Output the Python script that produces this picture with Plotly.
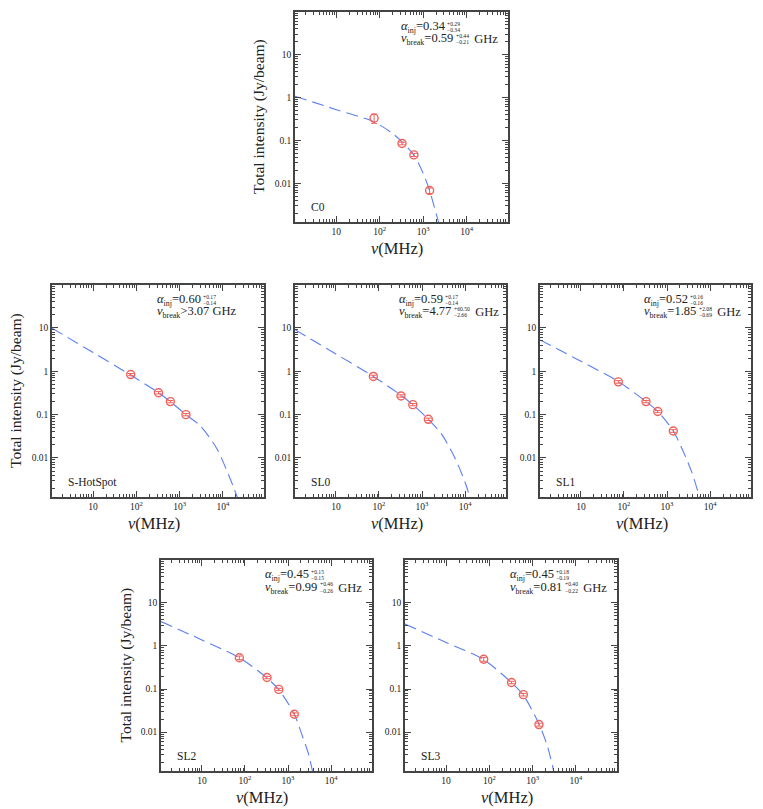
import plotly.graph_objects as go

# ---------------- data ----------------
regions = ["C0", "S-HotSpot", "SL0", "SL1", "SL2", "SL3"]
freq_mhz = [74, 325, 610, 1400]

flux = {
    "C0":        [0.33, 0.085, 0.046, 0.0068],
    "S-HotSpot": [0.84, 0.32, 0.20, 0.10],
    "SL0":       [0.76, 0.27, 0.17, 0.078],
    "SL1":       [0.57, 0.20, 0.118, 0.042],
    "SL2":       [0.53, 0.185, 0.098, 0.026],
    "SL3":       [0.49, 0.142, 0.074, 0.015],
}
flux_err = {
    "C0":        [0.08, 0.006, 0.004, 0.001],
    "S-HotSpot": [0.05, 0.02, 0.012, 0.006],
    "SL0":       [0.05, 0.017, 0.01, 0.005],
    "SL1":       [0.04, 0.012, 0.007, 0.003],
    "SL2":       [0.05, 0.012, 0.006, 0.002],
    "SL3":       [0.05, 0.009, 0.005, 0.0012],
}

# model curves
curve_nu = {
    "C0":        [1.12, 10, 74, 200, 325, 610, 1000, 1400, 2000, 2250],
    "S-HotSpot": [1.12, 10, 74, 325, 610, 1400, 2950, 7100, 14400, 21500],
    "SL0":       [1.12, 10, 74, 325, 610, 1400, 2820, 5800, 9800, 12900],
    "SL1":       [1.12, 10, 74, 325, 610, 1400, 2350, 3700, 5700],
    "SL2":       [1.12, 10, 74, 325, 610, 1400, 2040, 2940, 3700],
    "SL3":       [1.12, 10, 74, 325, 610, 1400, 2200, 3070],
}
curve_s = {
    "C0":        [1.07, 0.52, 0.27, 0.143, 0.092, 0.046, 0.017, 0.0068, 0.0019, 0.00125],
    "S-HotSpot": [9.9, 2.7, 0.82, 0.32, 0.20, 0.10, 0.056, 0.017, 0.0035, 0.00125],
    "SL0":       [9.1, 2.5, 0.76, 0.28, 0.17, 0.078, 0.036, 0.010, 0.0029, 0.00125],
    "SL1":       [5.3, 1.7, 0.58, 0.20, 0.118, 0.042, 0.0145, 0.0049, 0.00125],
    "SL2":       [3.65, 1.37, 0.53, 0.18, 0.097, 0.026, 0.0095, 0.0033, 0.00125],
    "SL3":       [3.2, 1.2, 0.48, 0.14, 0.072, 0.0155, 0.0047, 0.00125],
}

alpha_val = ["0.34", "0.60", "0.59", "0.52", "0.45", "0.45"]
alpha_up  = ["+0.29", "+0.17", "+0.17", "+0.16", "+0.15", "+0.18"]
alpha_lo  = ["−0.34", "−0.14", "−0.14", "−0.16", "−0.15", "−0.19"]
break_rel = ["=", ">", "=", "=", "=", "="]
break_val = ["0.59", "3.07", "4.77", "1.85", "0.99", "0.81"]
break_up  = ["+0.44", "", "+60.50", "+2.08", "+0.46", "+0.40"]
break_lo  = ["−0.21", "", "−2.66", "−0.69", "−0.26", "−0.22"]

x_tickvals = [10, 100, 1000, 10000]
x_ticktext = ["10", "10<sup>2</sup>", "10<sup>3</sup>", "10<sup>4</sup>"]
y_tickvals = [0.01, 0.1, 1, 10]
y_ticktext = ["0.01", "0.1", "1", "10"]

# ---------------- layout geometry (window pixels) ----------------
OFF = 8                 # default page body margin
FW, FH = 755, 801       # figure size so that page + margin fits the window
boxes = {
    "C0":        (295, 508, 12, 222),
    "S-HotSpot": (52, 264, 285, 497),
    "SL0":       (295, 506, 285, 497),
    "SL1":       (540, 751, 285, 497),
    "SL2":       (161, 372, 560, 771),
    "SL3":       (405, 617, 560, 771),
}
with_ylabel = {"C0", "S-HotSpot", "SL2"}
FONT = "Liberation Serif"
TXT = "#222222"
AXC = "#444444"
CURVE_C = "#5b7ff2"
PT_C = "#f0605a"

xmin_minor = [m * 10 ** k for k in range(0, 5) for m in range(2, 10)]
ymin_minor = [m * 10.0 ** k for k in range(-3, 2) for m in range(2, 10)]


def px(x):
    return (x - OFF) / FW


def py(y):
    return 1 - (y - OFF) / FH


CW = {'0': .5, '1': .5, '2': .5, '3': .5, '4': .5, '5': .5, '6': .5, '7': .5,
      '8': .5, '9': .5, '.': .25, '=': .564, '+': .564, '−': .564, '>': .564,
      ' ': .25, 'G': .722, 'H': .722, 'z': .444, 'i': .278, 'n': .5, 'j': .278,
      'b': .5, 'r': .333, 'e': .444, 'a': .444, 'k': .5, 'α': .55, 'ν': .5}


def tw(s, size):
    return sum(CW.get(c, .5) for c in s) * size


fig = go.Figure()
annotations = []
S = 12.5     # main text size
SS = 8       # subscript size
ES = 5.6     # stacked exponent size

for i, name in enumerate(regions):
    x0, x1, y0, y1 = boxes[name]
    sfx = "" if i == 0 else str(i + 1)
    xa, ya = "x" + sfx, "y" + sfx
    fig.add_trace(go.Scatter(
        x=curve_nu[name], y=curve_s[name], mode="lines",
        line=dict(color=CURVE_C, width=1.1, dash="12px,6px", shape="spline", smoothing=0.8),
        xaxis=xa, yaxis=ya, showlegend=False, hoverinfo="skip"))
    fig.add_trace(go.Scatter(
        x=freq_mhz, y=flux[name], mode="markers",
        marker=dict(symbol="circle-open", size=8, color=PT_C, line=dict(width=1.4, color=PT_C)),
        error_y=dict(type="data", array=flux_err[name], color=PT_C, thickness=1, width=3),
        xaxis=xa, yaxis=ya, showlegend=False))

    common = dict(showline=True, linecolor=AXC, linewidth=1.5, mirror="allticks",
                  ticks="inside", ticklen=6, tickcolor=AXC, tickwidth=1,
                  showgrid=False, zeroline=False, type="log",
                  tickfont=dict(family=FONT, size=9.5, color=TXT),
                  minor=dict(ticks="inside", ticklen=3, tickcolor=AXC, tickwidth=1, showgrid=False))
    xkey = "xaxis" + sfx
    ykey = "yaxis" + sfx
    xd = dict(common)
    xd.update(domain=[px(x0), px(x1)], range=[0.05, 4.95], anchor=ya,
              tickmode="array", tickvals=x_tickvals, ticktext=x_ticktext)
    xd["minor"] = dict(common["minor"], tickmode="array", tickvals=xmin_minor)
    yd = dict(common)
    yd.update(domain=[py(y1), py(y0)], range=[-2.9, 1.99], anchor=xa,
              tickmode="array", tickvals=y_tickvals, ticktext=y_ticktext)
    yd["minor"] = dict(common["minor"], tickmode="array", tickvals=ymin_minor)
    fig.update_layout({xkey: xd, ykey: yd})

    # axis titles
    if name in with_ylabel:
        annotations.append(dict(x=px(x0 - 36), y=py((y0 + y1) / 2), xref="paper", yref="paper",
                                text="Total intensity (Jy/beam)", textangle=-90, showarrow=False,
                                font=dict(family=FONT, size=15.5, color=TXT),
                                xanchor="center", yanchor="middle"))
    annotations.append(dict(x=px((x0 + x1) / 2 - 4), y=py(y1 + 26), xref="paper", yref="paper",
                            text="<i>ν</i>(MHz)", showarrow=False,
                            font=dict(family=FONT, size=16.5, color=TXT),
                            xanchor="center", yanchor="middle"))
    # region label
    annotations.append(dict(x=px(x0 + 14), y=py(y1 - 15), xref="paper", yref="paper",
                            text=name, showarrow=False, font=dict(family=FONT, size=11.5, color=TXT),
                            xanchor="left", yanchor="middle"))

    # fit parameter text
    X0 = x1 - 108
    ghz_inline = "" if break_up[i] else " GHz"
    lines = [
        ("α", "inj", "=" + alpha_val[i], alpha_up[i], alpha_lo[i], "", y0 + 15),
        ("ν", "break", break_rel[i] + break_val[i] + ghz_inline,
         break_up[i], break_lo[i], " GHz" if break_up[i] else "", y0 + 27.5),
    ]
    for sym, sub, rest, up, lo, tail, yc in lines:
        text = ("<i>" + sym + "</i><sub><span style='font-size:%dpx'>" % SS + sub
                + "</span></sub>" + rest)
        annotations.append(dict(x=px(X0), y=py(yc), xref="paper", yref="paper", text=text,
                                showarrow=False, font=dict(family=FONT, size=S, color=TXT),
                                xanchor="left", yanchor="middle", borderpad=0))
        if up:
            wmain = tw(sym, S) + tw(sub, SS) + tw(rest, S) + 2
            xe = X0 + wmain
            annotations.append(dict(x=px(xe), y=py(yc - 3.2), xref="paper", yref="paper", text=up,
                                    showarrow=False, font=dict(family=FONT, size=ES, color=TXT),
                                    xanchor="left", yanchor="middle", borderpad=0))
            annotations.append(dict(x=px(xe), y=py(yc + 3.0), xref="paper", yref="paper", text=lo,
                                    showarrow=False, font=dict(family=FONT, size=ES, color=TXT),
                                    xanchor="left", yanchor="middle", borderpad=0))
            if tail:
                we = max(tw(up, ES), tw(lo, ES))
                annotations.append(dict(x=px(xe + we + 2), y=py(yc), xref="paper", yref="paper",
                                        text=tail, showarrow=False,
                                        font=dict(family=FONT, size=S, color=TXT),
                                        xanchor="left", yanchor="middle", borderpad=0))

fig.update_layout(width=FW, height=FH, autosize=False,
                  margin=dict(l=0, r=0, t=0, b=0),
                  paper_bgcolor="white", plot_bgcolor="white",
                  annotations=annotations, showlegend=False)

fig.write_html("out.html")
